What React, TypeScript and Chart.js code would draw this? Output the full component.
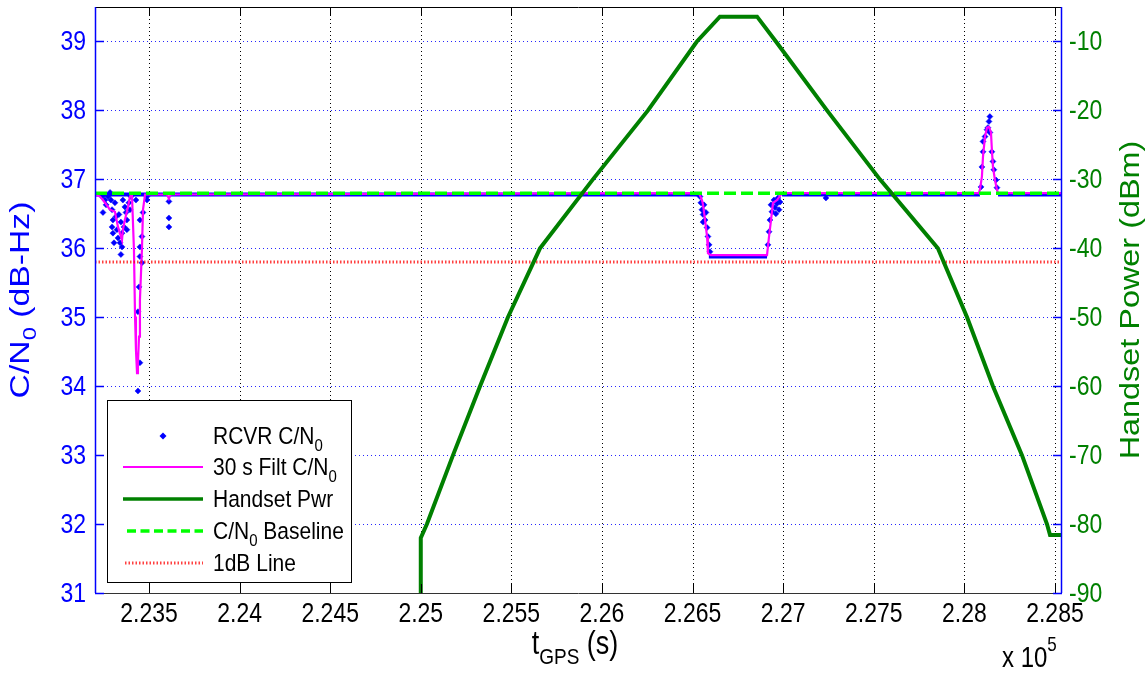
import React, { useEffect, useRef } from 'react';
import { Chart, registerables } from 'chart.js';

Chart.register(...registerables);

// ---------- axis ranges & ticks ----------
const xRange = [223202, 228539];
const leftRange = [31, 39.5];
const rightRange = [-90, -5];

const xTickValues = [223500, 224000, 224500, 225000, 225500, 226000, 226500, 227000, 227500, 228000, 228500];
const xTickLabels = ['2.235', '2.24', '2.245', '2.25', '2.255', '2.26', '2.265', '2.27', '2.275', '2.28', '2.285'];
const leftTickValues = [31, 32, 33, 34, 35, 36, 37, 38, 39];
const leftTickLabels = ['31', '32', '33', '34', '35', '36', '37', '38', '39'];
const rightTickValues = [-90, -80, -70, -60, -50, -40, -30, -20, -10];
const rightTickLabels = ['-90', '-80', '-70', '-60', '-50', '-40', '-30', '-20', '-10'];

// ---------- RCVR C/N0 (raw points that leave the baseline) ----------
const rcvrTimes = [
  223241, 223246, 223257, 223263, 223274, 223285, 223290, 223296, 223301, 223296, 223301, 223307,
  223312, 223318, 223323, 223329, 223334, 223340, 223345, 223351, 223351, 223345, 223356, 223367,
  223373, 223378, 223362, 223378, 223389, 223395, 223400, 223428, 223450, 223461, 223450, 223450,
  223461, 223445, 223439, 223450, 223439, 223434, 223489, 223489, 223467, 223610, 223610, 223610,
  226541, 226546, 226552, 226558, 226563, 226569, 226558, 226574, 226580, 226585, 226591, 226596,
  226916, 226922, 226927, 226933, 226938, 226949, 226955, 226960, 226966, 226971, 226977, 226983,
  227236,
  228092, 228097, 228103, 228103, 228114, 228125, 228130, 228136, 228141, 228141, 228152, 228158,
  228163, 228175, 228180,
];
const rcvrValues = [
  36.75, 36.52, 36.70, 36.63, 36.75, 36.81, 36.70, 36.56, 36.41, 36.31, 36.22, 36.08,
  36.66, 36.46, 36.27, 36.15, 36.49, 36.08, 36.38, 36.22, 36.02, 35.91, 36.70, 36.60,
  36.52, 36.41, 36.31, 36.27, 36.66, 36.56, 36.75, 36.70, 36.41, 36.17, 36.02, 35.88,
  35.79, 35.44, 35.08, 34.34, 33.93, 33.73, 36.75, 36.70, 36.52, 36.68, 36.44, 36.31,
  36.75, 36.66, 36.56, 36.49, 36.63, 36.41, 36.38, 36.52, 36.30, 36.17, 36.05, 35.95,
  36.05, 36.24, 36.41, 36.63, 36.53, 36.70, 36.59, 36.50, 36.65, 36.73, 36.56, 36.67,
  36.73,
  36.89, 37.18, 37.40, 37.55, 37.62, 37.72, 37.75, 37.84, 37.91, 37.68, 37.40, 37.26,
  37.14, 36.99, 36.88,
];

// runs where the raw C/N0 samples sit on a constant level (dense dots)
const rcvrRunStarts = [223202, 223620, 226590, 226994, 228186];
const rcvrRunEnds = [223600, 226535, 226911, 228086, 228539];
const rcvrRunLevels = [36.78, 36.78, 35.88, 36.78, 36.78];

// ---------- 30 s filtered C/N0 ----------
const filtTimes = [
  223202, 223230, 223246, 223285, 223312, 223329, 223351, 223356, 223367, 223384, 223395, 223406,
  223417, 223423, 223428, 223434, 223439, 223445, 223450, 223461, 223467, 223478, 223600, 223610,
  223620, 226535, 226552, 226558, 226569, 226580, 226585, 226600, 226911, 226922, 226933, 226944,
  226966, 226994, 228080, 228086, 228097, 228103, 228114, 228125, 228136, 228147, 228152, 228158,
  228169, 228180, 228186, 228539,
];
const filtValues = [
  36.78, 36.75, 36.70, 36.56, 36.53, 36.31, 36.12, 36.27, 36.41, 36.60, 36.75, 36.78,
  35.98, 35.01, 34.53, 34.19, 34.34, 34.72, 35.25, 35.98, 36.56, 36.78, 36.78, 36.72,
  36.78, 36.80, 36.70, 36.63, 36.41, 36.17, 35.93, 35.90, 35.90, 36.17, 36.41, 36.66,
  36.70, 36.80, 36.80, 36.85, 37.04, 37.33, 37.62, 37.75, 37.76, 37.68, 37.43, 37.18,
  36.99, 36.85, 36.80, 36.80,
];

// ---------- Handset power (dBm) ----------
const pwrTimes = [
  225000, 225000, 225034, 225178, 225327, 225481, 225658, 225950, 226254, 226524, 226651, 226856,
  226960, 227242, 227534, 227854, 228015, 228158, 228318, 228456, 228473, 228539,
];
const pwrValues = [
  -90, -82, -80, -70, -60, -50, -40, -30, -20, -10, -6.4, -6.4,
  -10, -20, -30, -40, -50, -60, -70, -80, -81.6, -81.6,
];

// ---------- reference lines ----------
const baselineTimes = [223202, 228539];
const baselineValues = [36.8, 36.8];
const oneDbTimes = [223202, 228539];
const oneDbValues = [35.8, 35.8];

const FONT = '"Liberation Sans", Arial, Helvetica, sans-serif';

type Part = { text: string; size: number; dy?: number };

function drawParts(
  ctx: CanvasRenderingContext2D,
  parts: Part[],
  x: number,
  y: number,
  align: 'left' | 'center' | 'right',
  sy = 1
) {
  const widths = parts.map((p) => {
    ctx.font = `${p.size}px ${FONT}`;
    return ctx.measureText(p.text).width;
  });
  const total = widths.reduce((a, b) => a + b, 0);
  let cx = align === 'left' ? x : align === 'center' ? x - total / 2 : x - total;
  ctx.save();
  ctx.translate(0, y);
  ctx.scale(1, sy);
  ctx.textAlign = 'left';
  ctx.textBaseline = 'alphabetic';
  parts.forEach((p, i) => {
    ctx.font = `${p.size}px ${FONT}`;
    ctx.fillText(p.text, cx, p.dy || 0);
    cx += widths[i];
  });
  ctx.restore();
}

function drawMid(ctx: CanvasRenderingContext2D, text: string, x: number, y: number, align: CanvasTextAlign, sy: number) {
  ctx.save();
  ctx.translate(x, y);
  ctx.scale(1, sy);
  ctx.textAlign = align;
  ctx.textBaseline = 'middle';
  ctx.fillText(text, 0, 0);
  ctx.restore();
}

const SY = 1.2;

const matlabPlugin = {
  id: 'matlabStyle',
  beforeDatasetsDraw(chart: any) {
    const { ctx, chartArea: a, scales } = chart;
    ctx.save();
    ctx.lineWidth = 1;
    ctx.setLineDash([1, 3]);
    ctx.strokeStyle = 'rgba(0,0,255,0.85)';
    leftTickValues.forEach((v) => {
      if (v === leftRange[0]) return;
      const y = Math.round(scales.yL.getPixelForValue(v)) + 0.5;
      ctx.beginPath();
      ctx.moveTo(a.left, y);
      ctx.lineTo(a.right, y);
      ctx.stroke();
    });
    ctx.strokeStyle = '#000';
    xTickValues.forEach((v) => {
      const x = Math.round(scales.x.getPixelForValue(v)) + 0.5;
      ctx.beginPath();
      ctx.moveTo(x, a.top);
      ctx.lineTo(x, a.bottom);
      ctx.stroke();
    });
    ctx.restore();
  },
  afterDatasetsDraw(chart: any) {
    const { ctx, chartArea: a, scales } = chart;
    ctx.save();
    ctx.setLineDash([]);
    const tl = 9;
    ctx.lineWidth = 1;
    ctx.strokeStyle = '#000';
    ctx.beginPath();
    ctx.moveTo(a.left, a.top + 0.5);
    ctx.lineTo(a.right, a.top + 0.5);
    ctx.stroke();
    ctx.strokeStyle = '#333';
    ctx.beginPath();
    ctx.moveTo(a.left, a.bottom + 0.5);
    ctx.lineTo(a.right, a.bottom + 0.5);
    ctx.stroke();
    ctx.strokeStyle = '#000';
    xTickValues.forEach((v) => {
      const x = Math.round(scales.x.getPixelForValue(v)) + 0.5;
      ctx.beginPath();
      ctx.moveTo(x, a.bottom);
      ctx.lineTo(x, a.bottom - tl);
      ctx.moveTo(x, a.top);
      ctx.lineTo(x, a.top + tl);
      ctx.stroke();
    });
    ctx.strokeStyle = '#0000FF';
    ctx.lineWidth = 1.5;
    ctx.beginPath();
    ctx.moveTo(a.left + 0.5, a.top);
    ctx.lineTo(a.left + 0.5, a.bottom);
    ctx.moveTo(a.right - 0.5, a.top);
    ctx.lineTo(a.right - 0.5, a.bottom);
    ctx.stroke();
    leftTickValues.forEach((v) => {
      const y = Math.round(scales.yL.getPixelForValue(v)) + 0.5;
      ctx.beginPath();
      ctx.moveTo(a.left, y);
      ctx.lineTo(a.left + tl, y);
      ctx.stroke();
    });
    rightTickValues.forEach((v) => {
      const y = Math.round(scales.yR.getPixelForValue(v)) + 0.5;
      ctx.beginPath();
      ctx.moveTo(a.right, y);
      ctx.lineTo(a.right - tl, y);
      ctx.stroke();
    });

    // ---------- legend ----------
    const lx = 107.5, ly = 400.5, lw = 244, lh = 182;
    ctx.fillStyle = '#fff';
    ctx.fillRect(lx, ly, lw, lh);
    ctx.strokeStyle = '#000';
    ctx.lineWidth = 1;
    ctx.strokeRect(lx, ly, lw, lh);
    const rows = [436, 467, 499, 531, 563];
    const x0 = 123, x1 = 203, tx = 213;
    ctx.fillStyle = '#0000FF';
    ctx.beginPath();
    ctx.moveTo(163, rows[0] - 3.5);
    ctx.lineTo(166.5, rows[0]);
    ctx.lineTo(163, rows[0] + 3.5);
    ctx.lineTo(159.5, rows[0]);
    ctx.closePath();
    ctx.fill();
    ctx.strokeStyle = '#FF00FF';
    ctx.lineWidth = 2;
    ctx.beginPath(); ctx.moveTo(x0, rows[1]); ctx.lineTo(x1, rows[1]); ctx.stroke();
    ctx.strokeStyle = '#008000';
    ctx.lineWidth = 3.5;
    ctx.beginPath(); ctx.moveTo(x0, rows[2]); ctx.lineTo(x1, rows[2]); ctx.stroke();
    ctx.strokeStyle = '#00FF00';
    ctx.lineWidth = 3.5;
    ctx.setLineDash([9, 4.5]);
    ctx.beginPath(); ctx.moveTo(x0 + 4, rows[3]); ctx.lineTo(x1, rows[3]); ctx.stroke();
    ctx.strokeStyle = 'rgba(255,0,0,0.75)';
    ctx.lineWidth = 3;
    ctx.setLineDash([1.5, 2]);
    ctx.beginPath(); ctx.moveTo(x0 + 2, rows[4]); ctx.lineTo(x1, rows[4]); ctx.stroke();
    ctx.setLineDash([]);

    ctx.fillStyle = '#000';
    const ls = 21, ss = 15, lsy = 1.12;
    drawParts(ctx, [{ text: 'RCVR C/N', size: ls }, { text: '0', size: ss, dy: 6 }], tx, rows[0] + 8, 'left', lsy);
    drawParts(ctx, [{ text: '30 s Filt C/N', size: ls }, { text: '0', size: ss, dy: 6 }], tx, rows[1] + 8, 'left', lsy);
    drawParts(ctx, [{ text: 'Handset Pwr', size: ls }], tx, rows[2] + 8, 'left', lsy);
    drawParts(ctx, [{ text: 'C/N', size: ls }, { text: '0', size: ss, dy: 6 }, { text: ' Baseline', size: ls }], tx, rows[3] + 8, 'left', lsy);
    drawParts(ctx, [{ text: '1dB Line', size: ls }], tx, rows[4] + 8, 'left', lsy);
    ctx.restore();
  },
  afterDraw(chart: any) {
    const { ctx, chartArea: a, scales } = chart;
    ctx.save();
    const ts = 23;
    ctx.font = `${ts}px ${FONT}`;
    ctx.fillStyle = '#0000FF';
    leftTickValues.forEach((v, i) => {
      drawMid(ctx, leftTickLabels[i], a.left - 9, scales.yL.getPixelForValue(v) + 1, 'right', SY);
    });
    ctx.fillStyle = '#008000';
    rightTickValues.forEach((v, i) => {
      drawMid(ctx, rightTickLabels[i], a.right + 7, scales.yR.getPixelForValue(v) + 1, 'left', SY);
    });
    ctx.fillStyle = '#000';
    xTickValues.forEach((v, i) => {
      drawMid(ctx, xTickLabels[i], scales.x.getPixelForValue(v), a.bottom + 21, 'center', SY);
    });

    const ti = 27;
    const cy = (a.top + a.bottom) / 2;
    ctx.fillStyle = '#0000FF';
    ctx.save();
    ctx.translate(19, cy);
    ctx.scale(1, 1.25);
    ctx.rotate(-Math.PI / 2);
    drawParts(ctx, [{ text: 'C/N', size: ti }, { text: '0', size: 19, dy: 7 }, { text: ' (dB-Hz)', size: ti }], 0, 10, 'center');
    ctx.restore();
    ctx.fillStyle = '#008000';
    ctx.save();
    ctx.translate(1129, cy);
    ctx.scale(1, 1.2);
    ctx.rotate(-Math.PI / 2);
    drawParts(ctx, [{ text: 'Handset Power (dBm)', size: ti }], 0, 10, 'center');
    ctx.restore();
    ctx.fillStyle = '#000';
    drawParts(ctx, [{ text: 't', size: ti }, { text: 'GPS', size: 19, dy: 8 }, { text: ' (s)', size: ti }], 575, 654, 'center', SY);
    drawParts(ctx, [{ text: 'x 10', size: 24 }, { text: '5', size: 17, dy: -13 }], 1002, 667, 'left', SY);
    ctx.restore();
  },
};

function pts(xs: number[], ys: number[]) {
  return xs.map((x, i) => ({ x, y: ys[i] }));
}

function runPts() {
  const out: { x: number; y: number | null }[] = [];
  rcvrRunStarts.forEach((s, i) => {
    out.push({ x: s, y: rcvrRunLevels[i] });
    out.push({ x: rcvrRunEnds[i], y: rcvrRunLevels[i] });
    out.push({ x: rcvrRunEnds[i] + 1, y: null });
  });
  return out;
}

export default function App() {
  const ref = useRef<HTMLCanvasElement | null>(null);
  useEffect(() => {
    if (!ref.current) return;
    const chart = new Chart(ref.current, {
      type: 'scatter',
      data: {
        datasets: [
          {
            label: 'Handset Pwr',
            data: pts(pwrTimes, pwrValues),
            showLine: true,
            borderColor: '#008000',
            borderWidth: 4,
            pointRadius: 0,
            yAxisID: 'yR',
            order: 0,
          },
          {
            label: 'C/N0 Baseline',
            data: pts(baselineTimes, baselineValues),
            showLine: true,
            borderColor: '#00FF00',
            borderWidth: 3.5,
            borderDash: [12, 5],
            pointRadius: 0,
            yAxisID: 'yL',
            order: 1,
          },
          {
            label: '1dB Line',
            data: pts(oneDbTimes, oneDbValues),
            showLine: true,
            borderColor: 'rgba(255,0,0,0.75)',
            borderWidth: 3,
            borderDash: [1.5, 2],
            pointRadius: 0,
            yAxisID: 'yL',
            order: 2,
          },
          {
            label: '30 s Filt C/N0',
            data: pts(filtTimes, filtValues),
            showLine: true,
            borderColor: '#FF00FF',
            borderWidth: 2.2,
            pointRadius: 0,
            yAxisID: 'yL',
            order: 3,
          },
          {
            label: 'RCVR C/N0',
            data: pts(rcvrTimes, rcvrValues),
            showLine: false,
            pointStyle: 'rectRot',
            pointRadius: 3,
            backgroundColor: '#0000FF',
            borderColor: '#0000FF',
            borderWidth: 0.5,
            yAxisID: 'yL',
            order: 4,
          },
          {
            label: 'RCVR C/N0 dense',
            data: runPts() as any,
            showLine: true,
            spanGaps: false,
            borderColor: '#0000FF',
            borderWidth: 4,
            pointRadius: 0,
            yAxisID: 'yL',
            order: 5,
          },
        ],
      },
      options: {
        animation: false,
        responsive: true,
        maintainAspectRatio: false,
        layout: { padding: { left: 95, right: 84, top: 7, bottom: 84 } },
        plugins: { legend: { display: false }, tooltip: { enabled: false } },
        scales: {
          x: { type: 'linear', min: xRange[0], max: xRange[1], display: false },
          yL: { type: 'linear', position: 'left', min: leftRange[0], max: leftRange[1], display: false },
          yR: { type: 'linear', position: 'right', min: rightRange[0], max: rightRange[1], display: false },
        },
        elements: { line: { tension: 0 } },
      },
      plugins: [matlabPlugin],
    } as any);
    return () => chart.destroy();
  }, []);
  return (
    <div style={{ position: 'fixed', left: 0, top: 0, width: 1146, height: 677, background: '#fff' }}>
      <canvas ref={ref} />
    </div>
  );
}
